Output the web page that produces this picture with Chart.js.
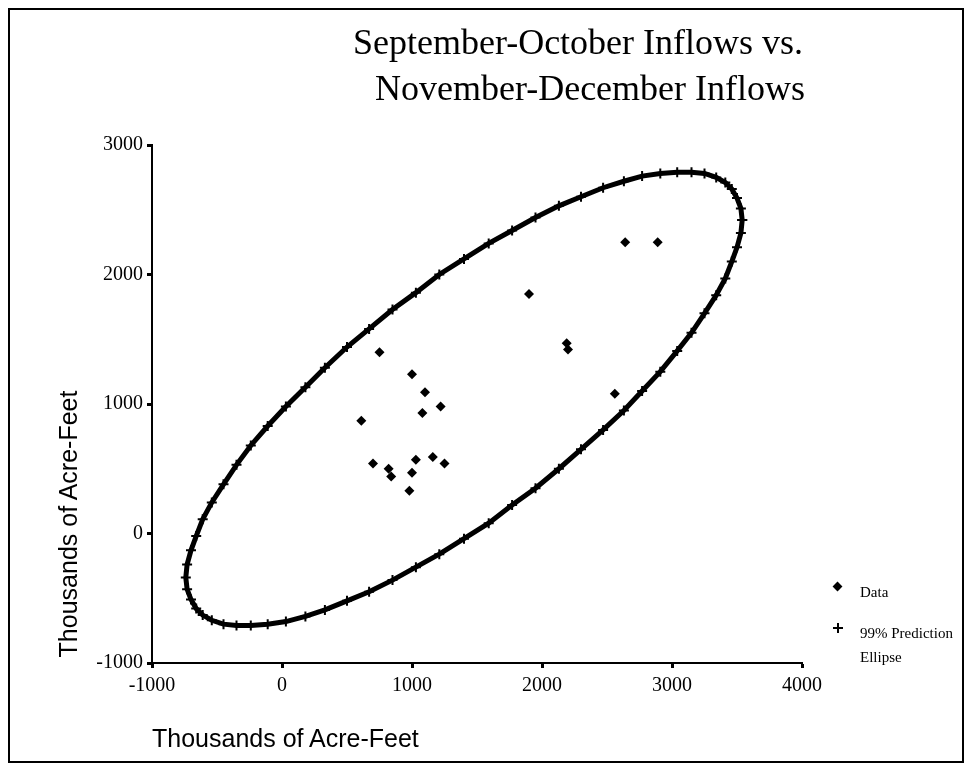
<!DOCTYPE html>
<html>
<head>
<meta charset="utf-8">
<script src="https://cdn.jsdelivr.net/npm/chart.js@4/dist/chart.umd.min.js"></script>
<style>
    body { margin: 0; background: #fff; }
    #wrap { position: relative; width: 971px; height: 771px; }
    #frame { position: absolute; left: 8px; top: 8px; width: 952px; height: 751px; border: 2px solid #000; pointer-events: none; }
    .serif { font-family: "Liberation Serif", "Times New Roman", serif; color: #000; white-space: nowrap; }
    .sans { font-family: "Liberation Sans", Arial, sans-serif; color: #000; white-space: nowrap; }
    .title { position: absolute; font-size: 36px; line-height: 40px; transform: translateX(-50%); }
    #ytitle { position: absolute; left: 68px; top: 524px; font-size: 25px; transform: translate(-50%, -50%) rotate(-90deg); }
    #xtitle { position: absolute; left: 152px; top: 724px; font-size: 25px; line-height: 28px; }
    .leg { position: absolute; font-size: 15px; line-height: 18px; }
    .diamond { position: absolute; width: 7px; height: 7px; background: #000; transform: rotate(45deg); }
    .bar { position: absolute; background: #000; }
</style>
</head>
<body>
<div id="wrap">
    <canvas id="chart" width="971" height="771"></canvas>
    <div id="frame"></div>
    <div class="title serif" style="left:578px; top:22px;">September-October Inflows vs.</div>
    <div class="title serif" style="left:590px; top:68px;">November-December Inflows</div>
    <div id="ytitle" class="sans">Thousands of Acre-Feet</div>
    <div id="xtitle" class="sans">Thousands of Acre-Feet</div>
    <!-- legenda -->
    <div class="diamond" style="left:834px; top:583px;"></div>
    <div id="leg0" class="leg serif" style="left:860px; top:583px;"></div>
    <div class="bar" style="left:833px; top:627px; width:10px; height:2px;"></div>
    <div class="bar" style="left:837px; top:623px; width:2px; height:10px;"></div>
    <div id="leg1" class="leg serif" style="left:860px; top:624px;"></div>
    <div id="leg2" class="leg serif" style="left:860px; top:648px;"></div>
</div>
<script>
// valori (migliaia di acre-feet)
const dataX = [1900, 750, 1000, 1100, 1220, 1080, 610, 700, 820, 840, 1030, 1160, 1250, 1000, 980, 2640, 2890, 2190, 2200, 2560];
const dataY = [1850, 1400, 1230, 1090, 980, 930, 870, 540, 500, 440, 570, 590, 540, 470, 330, 2250, 2250, 1470, 1420, 1080];

// punti dell'ellisse di previsione al 99%
const ellipseX = [3540, 3530, 3500, 3460, 3410, 3340, 3250, 3150, 3040, 2910, 2770, 2630, 2470, 2300, 2130, 1950, 1770, 1590,
    1400, 1210, 1030, 850, 670, 500, 330, 180, 30, -110, -240, -350, -450, -540, -610, -660, -700, -730,
    -740, -730, -700, -660, -610, -540, -450, -350, -240, -110, 30, 180, 330, 500, 670, 850, 1030, 1210,
    1400, 1590, 1770, 1950, 2130, 2300, 2470, 2630, 2770, 2910, 3040, 3150, 3250, 3340, 3410, 3460, 3500, 3530, 3540];
const ellipseY = [2420, 2510, 2590, 2660, 2710, 2750, 2780, 2790, 2790, 2780, 2760, 2720, 2670, 2600, 2530, 2440, 2340, 2240,
    2120, 2000, 1860, 1730, 1580, 1440, 1280, 1130, 980, 830, 680, 530, 380, 240, 110, -20, -130, -240,
    -340, -430, -510, -580, -630, -670, -700, -710, -710, -700, -680, -640, -590, -520, -450, -360, -260, -160,
    -40, 80, 220, 350, 500, 650, 800, 950, 1100, 1250, 1410, 1550, 1700, 1840, 1970, 2100, 2210, 2320, 2420];

const xTickValues = [-1000, 0, 1000, 2000, 3000, 4000];
const yTickValues = [-1000, 0, 1000, 2000, 3000];
const seriesNames = ["Data", "99% Prediction", "Ellipse"];

document.getElementById("leg0").textContent = seriesNames[0];
document.getElementById("leg1").textContent = seriesNames[1];
document.getElementById("leg2").textContent = seriesNames[2];

const serif = "'Liberation Serif', 'Times New Roman', serif";

const toPoints = (xs, ys) => xs.map((x, i) => ({ x: x, y: ys[i] }));

const ctx = document.getElementById("chart").getContext("2d");
new Chart(ctx, {
    type: "scatter",
    data: {
        datasets: [
            {
                label: seriesNames[0],
                data: toPoints(dataX, dataY),
                pointStyle: "rectRot",
                pointRadius: 5,
                backgroundColor: "#000",
                borderColor: "#000",
                borderWidth: 0,
            },
            {
                label: seriesNames[1] + " " + seriesNames[2],
                data: toPoints(ellipseX, ellipseY),
                showLine: true,
                borderColor: "#000",
                borderWidth: 5,
                pointStyle: "cross",
                pointRadius: 5,
                pointBorderWidth: 2,
                pointBorderColor: "#000",
                backgroundColor: "#000",
            },
        ],
    },
    options: {
        responsive: false,
        animation: false,
        devicePixelRatio: 1,
        layout: { padding: { left: 0, top: 145, right: 169, bottom: 68 } },
        plugins: {
            legend: { display: false },
            tooltip: { enabled: false },
        },
        scales: {
            x: {
                type: "linear",
                min: -1000,
                max: 4000,
                afterBuildTicks: (s) => { s.ticks = xTickValues.map((v) => ({ value: v })); },
                afterFit: (s) => { s.height = 40; },
                grid: { drawOnChartArea: false, drawTicks: true, tickLength: 5, tickWidth: 3, color: "#000" },
                border: { display: true, color: "#000", width: 2 },
                ticks: {
                    color: "#000",
                    font: { family: serif, size: 20 },
                    padding: 6,
                    maxRotation: 0,
                    autoSkip: false,
                    callback: (v) => String(v), // niente separatore delle migliaia
                },
            },
            y: {
                type: "linear",
                min: -1000,
                max: 3000,
                afterBuildTicks: (s) => { s.ticks = yTickValues.map((v) => ({ value: v })); },
                afterFit: (s) => { s.width = 152; },
                grid: { drawOnChartArea: false, drawTicks: true, tickLength: 5, tickWidth: 3, color: "#000" },
                border: { display: true, color: "#000", width: 2 },
                ticks: {
                    color: "#000",
                    font: { family: serif, size: 20 },
                    padding: 4,
                    autoSkip: false,
                    callback: (v) => String(v),
                },
            },
        },
    },
});
</script>
</body>
</html>
